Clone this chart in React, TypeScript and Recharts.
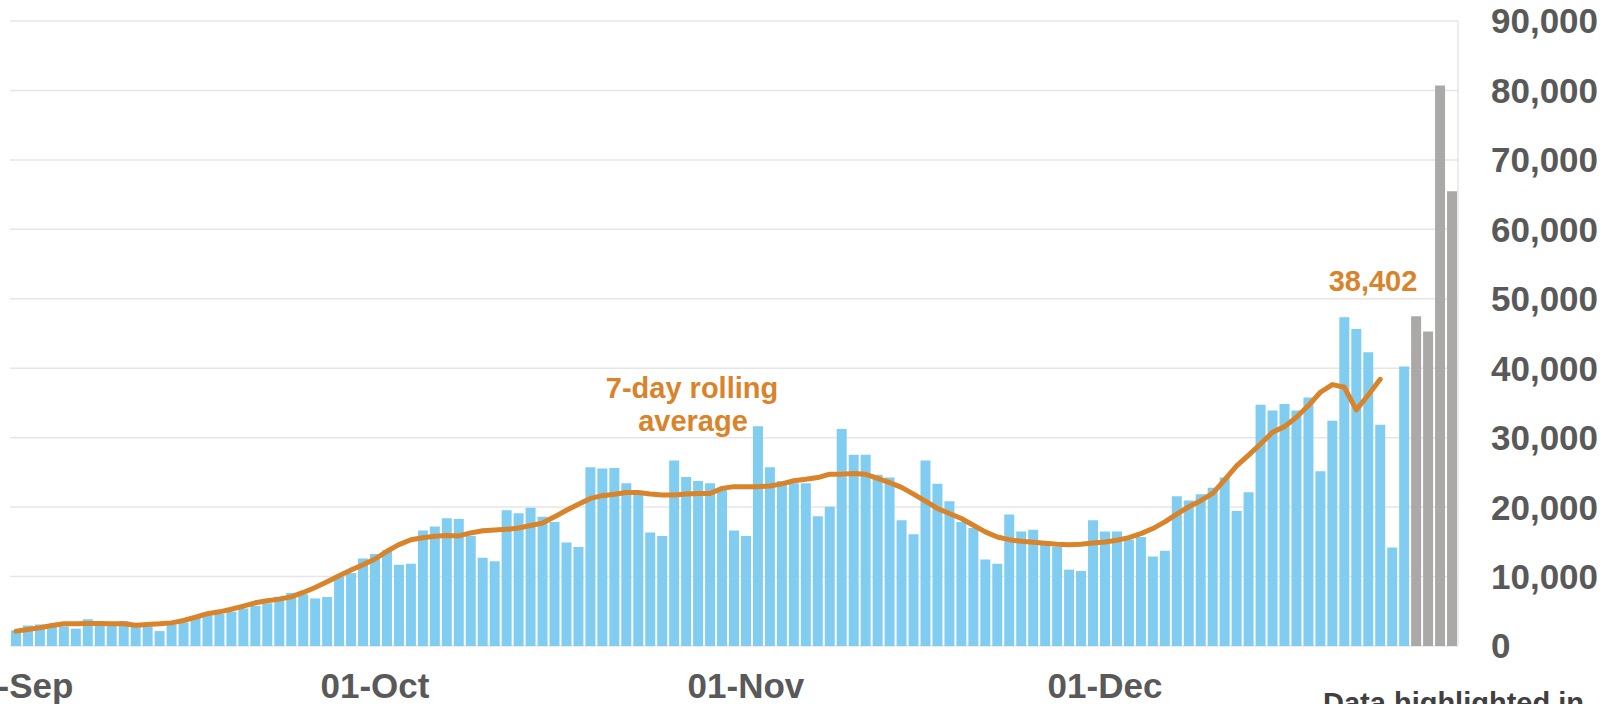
import React from 'react';
import { ComposedChart, Bar, Line, XAxis, YAxis, CartesianGrid, Cell } from 'recharts';

// Categories: one bar per day, 01-Sep to 30-Dec
const months = ['Sep', 'Oct', 'Nov', 'Dec'];
const daysShownPerMonth = [30, 31, 30, 30];
const days: string[] = months.flatMap((m, mi) =>
  Array.from({ length: daysShownPerMonth[mi] }, (_, d) => `${String(d + 1).padStart(2, '0')}-${m}`)
);

// Daily values
const dailyCases = [
  2250, 2950, 3100, 2900, 2800, 2500, 3850, 3250, 3300, 3600,
  3000, 2750, 2150, 3100, 3400, 4200, 4400, 4600, 4950, 5400,
  5800, 6150, 7100, 7650, 7450, 6850, 7050, 9980, 10500, 12600,
  13250, 13800, 11700, 11850, 16650, 17200, 18400, 18300, 15850, 12700,
  12200, 19550, 19100, 19900, 18600, 17850, 14900, 14250, 25750, 25550,
  25650, 23450, 21750, 16350, 15850, 26700, 24350, 23750, 23450, 22500,
  16650, 15850, 31650, 25750, 23750, 23450, 23450, 18700, 20050, 31250,
  27550, 27550, 24650, 24250, 18100, 16100, 26700, 23350, 20850, 17850,
  17000, 12450, 11850, 18950, 16500, 16750, 14600, 14300, 11000, 10800,
  18100, 16500, 16500, 15300, 15700, 12900, 13700, 21550, 20950, 21850,
  22800, 24250, 19450, 22150, 34750, 33900, 34850, 33900, 35800, 25150,
  32450, 47350, 45650, 42300, 31850, 14200, 40250, 47500, 45300, 80700,
  65500,
];

// 7-day rolling average line, ends at 38,402
const rollingAverage = [
  2140, 2380, 2620, 2950, 3190, 3190, 3240, 3240, 3190, 3190,
  3000, 3100, 3190, 3330, 3670, 4140, 4650, 4920, 5300, 5730,
  6220, 6510, 6750, 7080, 7710, 8430, 9250, 10120, 10940, 11710,
  12530, 13640, 14600, 15300, 15600, 15800, 15900, 15850, 16280, 16600,
  16700, 16800, 17000, 17350, 17700, 18600, 19550, 20400, 21250, 21650,
  21850, 22100, 22100, 21900, 21750, 21750, 21900, 21950, 21950, 22700,
  22950, 22950, 22950, 23050, 23350, 23800, 24000, 24250, 24750, 24750,
  24830, 24730, 24150, 23530, 22850, 21880, 20870, 19810, 19080, 18360,
  17390, 16430, 15700, 15310, 15070, 14930, 14800, 14640, 14590, 14640,
  14830, 14980, 15220, 15600, 16180, 16910, 17870, 18990, 20050, 20920,
  21980, 23910, 25940, 27500, 29090, 30770, 31590, 32930, 34620, 36540,
  37640, 37260, 33990, 36150, 38402,
];

// Days whose data are highlighted (incomplete) in grey
const highlightedDays = ['27-Dec', '28-Dec', '29-Dec', '30-Dec'];

const xTickLabels = ['01-Sep', '01-Oct', '01-Nov', '01-Dec'];
const yTicks = [0, 10000, 20000, 30000, 40000, 50000, 60000, 70000, 80000, 90000];

const latestAverageLabel = '38,402';
const lineLabel = ['7-day rolling', 'average'];
const footnote = 'Data highlighted in';

const BLUE = '#80CDF1';
const GREY = '#ABA8A8';
const ORANGE = '#D9832B';
const AXIS_TEXT = '#595959';
const FONT = 'Arial, "Liberation Sans", Helvetica, sans-serif';

const data = days.map((day, i) => ({
  day,
  cases: dailyCases[i],
  avg: i < rollingAverage.length ? rollingAverage[i] : null,
}));

export default function App() {
  return (
    <div style={{ position: 'absolute', left: 0, top: 0, width: 1615, height: 704, overflow: 'hidden', background: '#fff' }}>
      <ComposedChart
        width={1615}
        height={704}
        data={data}
        margin={{ top: 21, right: 0, bottom: 0, left: 10 }}
        barCategoryGap={1}
        style={{ fontFamily: FONT }}
      >
        <CartesianGrid vertical={false} stroke="#E6E6E6" strokeWidth={1.5} />
        <XAxis
          dataKey="day"
          interval={0}
          tickLine={false}
          axisLine={false}
          height={58}
          tickSize={0}
          tickMargin={27}
          tickFormatter={(v: string) => (xTickLabels.includes(v) ? v : '')}
          tick={{ fontSize: 35, fontWeight: 700, fill: AXIS_TEXT, fontFamily: FONT }}
        />
        <YAxis
          orientation="right"
          width={157}
          domain={[0, 90000]}
          ticks={yTicks}
          tickLine={false}
          axisLine={{ stroke: '#E6E6E6', strokeWidth: 1.5 }}
          tickSize={0}
          tickMargin={33}
          tickFormatter={(v: number) => v.toLocaleString('en-US')}
          tick={{ fontSize: 35, fontWeight: 700, fill: AXIS_TEXT, fontFamily: FONT }}
        />
        <Bar dataKey="cases" isAnimationActive={false}>
          {data.map((d, i) => (
            <Cell key={i} fill={highlightedDays.includes(d.day) ? GREY : BLUE} />
          ))}
        </Bar>
        <Line
          dataKey="avg"
          type="linear"
          stroke={ORANGE}
          strokeWidth={5}
          dot={false}
          strokeLinejoin="round"
          strokeLinecap="round"
          isAnimationActive={false}
        />
      </ComposedChart>
      <svg
        width={1615}
        height={740}
        style={{ position: 'absolute', left: 0, top: 0, pointerEvents: 'none', fontFamily: FONT }}
      >
        <text x={692} y={398} textAnchor="middle" fontSize={29} fontWeight={700} fill={ORANGE}>
          {lineLabel[0]}
        </text>
        <text x={693} y={431} textAnchor="middle" fontSize={29} fontWeight={700} fill={ORANGE}>
          {lineLabel[1]}
        </text>
        <text x={1373} y={291} textAnchor="middle" fontSize={29} fontWeight={700} fill={ORANGE}>
          {latestAverageLabel}
        </text>
        <text x={1323} y={713} textAnchor="start" fontSize={29} fontWeight={700} fill="#404040">
          {footnote}
        </text>
      </svg>
    </div>
  );
}
